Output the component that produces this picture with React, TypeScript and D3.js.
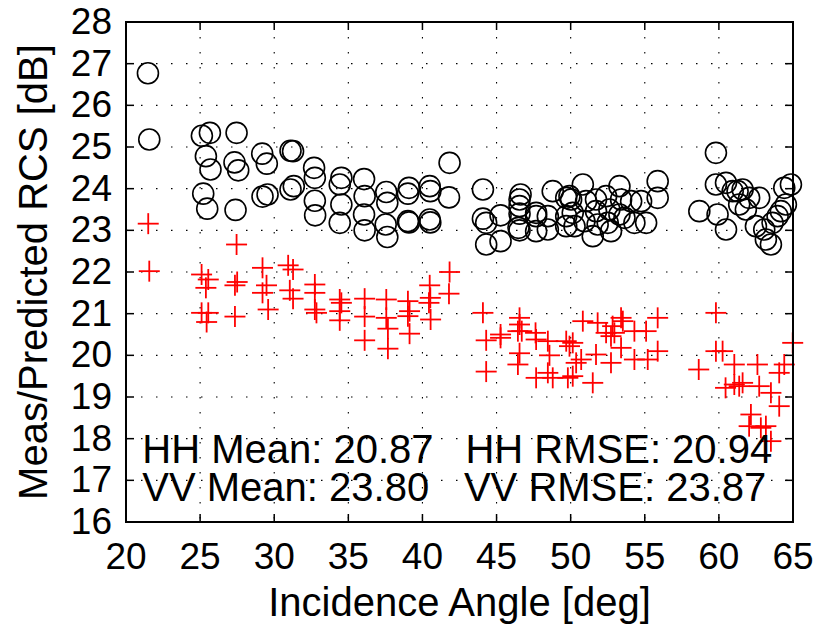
import React from "react";
import * as d3 from "d3";

// VV (circles)
const vvAngle = [
  21.48, 21.57, 25.12, 25.66, 25.39, 25.7, 25.21, 25.48, 27.46, 27.32, 27.57, 27.39,
  29.19, 29.5, 29.21, 29.55, 31.1, 31.27, 31.1, 31.32, 32.69, 32.74, 32.74, 32.76,
  34.53, 34.42, 34.53, 34.42, 36.06, 36.1, 36.06, 36.1, 37.56, 37.63, 37.52, 37.63,
  39.09, 39.02, 39.02, 39.09, 40.49, 40.53, 40.49, 40.53, 41.83, 41.79, 44.08, 44.08,
  44.3, 44.3, 45.27, 45.27, 46.62, 46.55, 46.55, 46.55, 46.48, 46.55, 47.67, 47.67,
  47.67, 48.79, 48.46, 48.46, 49.7, 49.92, 49.7, 49.7, 50.03, 50.14, 50.26, 50.82,
  51.04, 50.93, 51.49, 51.71, 51.71, 51.82, 52.39, 52.61, 52.5, 52.72, 53.29, 53.4,
  53.29, 53.63, 54.08, 54.3, 54.75, 55.09, 55.87, 55.87, 58.68, 59.8, 59.8, 59.91,
  60.48, 60.48, 60.93, 61.26, 61.6, 61.37, 62.04, 62.72, 61.82, 62.5, 63.06, 63.17,
  63.51, 63.62, 63.96, 64.18, 64.52, 64.41, 64.86,
];
const vvRcs = [
  26.77, 25.18, 25.27, 25.34, 24.78, 24.46, 23.88, 23.52, 25.34, 24.63, 24.44, 23.49,
  24.84, 24.6, 23.81, 23.86, 24.91, 24.9, 23.98, 24.06, 24.5, 24.26, 23.71, 23.36,
  24.26, 24.1, 23.62, 23.18, 24.23, 23.82, 23.38, 23.0, 23.92, 23.66, 23.14, 22.84,
  24.02, 23.88, 23.22, 23.19, 24.06, 23.94, 23.26, 23.19, 24.62, 23.79, 23.98, 23.28,
  23.18, 22.66, 23.36, 22.74, 23.86, 23.74, 23.58, 23.4, 23.06, 23.0, 23.42, 23.34,
  22.98, 23.94, 23.34, 23.02, 23.78, 23.82, 23.34, 23.1, 23.74, 23.42, 23.1, 24.1,
  23.7, 23.22, 22.86, 23.74, 23.46, 23.14, 23.82, 23.5, 23.18, 22.98, 24.06, 23.74,
  23.38, 23.3, 23.7, 23.18, 23.7, 23.18, 24.18, 23.78, 23.46, 24.86, 24.1, 23.38,
  23.02, 24.14, 23.94, 23.94, 23.98, 23.62, 23.78, 23.78, 23.5, 23.1, 23.02, 22.78,
  22.66, 23.18, 23.34, 23.46, 23.62, 24.02, 24.1,
];

// HH (plus signs)
const hhAngle = [
  21.5, 21.57, 27.46, 25.1, 25.55, 25.39, 25.1, 25.55, 25.44, 27.35, 27.5, 27.35,
  29.21, 29.48, 29.21, 29.59, 30.94, 31.27, 31.05, 31.27, 32.74, 32.74, 32.74, 32.85,
  34.42, 34.53, 34.42, 34.42, 36.1, 36.1, 36.1, 37.56, 37.56, 37.67, 37.67, 39.02,
  39.13, 39.02, 39.13, 40.49, 40.53, 40.44, 40.55, 41.83, 41.79, 44.08, 44.3, 44.3,
  45.27, 45.27, 46.55, 46.55, 46.44, 46.7, 47.63, 47.67, 46.55, 46.44, 47.67, 48.46,
  48.57, 48.46, 48.79, 49.7, 49.92, 49.81, 50.37, 50.82, 51.82, 52.39, 52.72, 52.83,
  53.4, 53.52, 52.95, 53.4, 54.3, 55.09, 55.87, 55.87, 55.2, 54.3, 52.72, 51.71,
  50.71, 50.14, 50.14, 51.49, 58.64, 59.8, 59.8, 60.25, 61.04, 60.45, 61.04, 61.37,
  61.6, 62.6, 62.72, 63.51, 64.07, 64.07, 64.41, 64.98, 62.16, 62.04, 62.83, 63.17,
  63.51,
];
const hhRcs = [
  23.16, 22.02, 22.66, 21.94, 21.82, 21.62, 21.02, 21.02, 20.8, 21.68, 21.76, 20.93,
  22.1, 21.68, 21.5, 21.1, 22.16, 22.06, 21.56, 21.36, 21.7, 21.5, 21.1, 21.02,
  21.34, 21.26, 21.06, 20.84, 21.36, 20.93, 20.36, 21.34, 20.9, 20.64, 20.16, 21.3,
  21.06, 20.94, 20.52, 21.68, 21.38, 21.26, 20.86, 22.0, 21.48, 21.02, 20.36, 19.61,
  20.5, 20.42, 20.9, 20.74, 20.58, 20.58, 20.54, 20.38, 20.05, 19.78, 19.46, 20.34,
  20.0, 19.58, 19.46, 20.34, 20.22, 19.46, 19.82, 20.82, 20.78, 20.54, 20.46, 20.7,
  20.9, 20.82, 20.54, 20.18, 20.58, 20.58, 20.9, 20.1, 19.9, 19.9, 19.82, 20.02,
  19.9, 19.5, 20.3, 19.34, 19.66, 21.02, 20.1, 20.1, 19.78, 19.22, 19.3, 19.26,
  19.34, 19.78, 19.26, 19.1, 18.78, 19.58, 19.78, 20.3, 18.58, 18.3, 18.26, 18.3,
  17.94,
];

const xTicks = [20, 25, 30, 35, 40, 45, 50, 55, 60, 65];
const yTicks = [16, 17, 18, 19, 20, 21, 22, 23, 24, 25, 26, 27, 28];

const statLines = [
  { text: "HH Mean: 20.87", angle: 21.1, rcs: 17.42 },
  { text: "HH RMSE: 20.94", angle: 42.9, rcs: 17.42 },
  { text: "VV Mean: 23.80", angle: 21.1, rcs: 16.5 },
  { text: "VV RMSE: 23.87", angle: 42.8, rcs: 16.5 },
];

const font = "'Liberation Sans', Arial, Helvetica, sans-serif";

export default function App() {
  const width = 819;
  const height = 625;
  const left = 126, right = 793, top = 22, bottom = 522;

  const x = d3.scaleLinear().domain([20, 65]).range([left, right]);
  const y = d3.scaleLinear().domain([16, 28]).range([bottom, top]);

  const tick = 8;
  const r = 10.5;
  const arm = 10.5;

  return (
    <div style={{ position: "absolute", left: 0, top: 0 }}>
      <svg width={width} height={height} style={{ display: "block", background: "#fff" }}>
        {/* grid */}
        <g stroke="#000" strokeWidth={1.1} strokeDasharray="1.5 13.5" fill="none">
          {xTicks.slice(1, -1).map((t) => (
            <line key={"gx" + t} x1={x(t)} x2={x(t)} y1={top} y2={bottom} />
          ))}
          {yTicks.slice(1, -1).map((t) => (
            <line key={"gy" + t} x1={left} x2={right} y1={y(t)} y2={y(t)} />
          ))}
        </g>

        {/* HH plus markers */}
        <g stroke="#ff0000" strokeWidth={1.8}>
          {hhAngle.map((a, i) => (
            <g key={"hh" + i}>
              <line x1={x(a) - arm} x2={x(a) + arm} y1={y(hhRcs[i])} y2={y(hhRcs[i])} />
              <line x1={x(a)} x2={x(a)} y1={y(hhRcs[i]) - arm} y2={y(hhRcs[i]) + arm} />
            </g>
          ))}
        </g>

        {/* VV circle markers */}
        <g stroke="#000" strokeWidth={1.6} fill="none">
          {vvAngle.map((a, i) => (
            <circle key={"vv" + i} cx={x(a)} cy={y(vvRcs[i])} r={r} />
          ))}
        </g>

        {/* ticks (inward, all sides) */}
        <g stroke="#000" strokeWidth={1.5}>
          {xTicks.map((t) => (
            <g key={"tx" + t}>
              <line x1={x(t)} x2={x(t)} y1={bottom} y2={bottom - tick} />
              <line x1={x(t)} x2={x(t)} y1={top} y2={top + tick} />
            </g>
          ))}
          {yTicks.map((t) => (
            <g key={"ty" + t}>
              <line x1={left} x2={left + tick} y1={y(t)} y2={y(t)} />
              <line x1={right} x2={right - tick} y1={y(t)} y2={y(t)} />
            </g>
          ))}
        </g>

        {/* box */}
        <rect x={left} y={top} width={right - left} height={bottom - top} fill="none" stroke="#000" strokeWidth={2} />

        {/* tick labels */}
        <g fontFamily={font} fontSize={37} fill="#000">
          {xTicks.map((t) => (
            <text key={"lx" + t} x={x(t)} y={bottom + 47} textAnchor="middle">
              {t}
            </text>
          ))}
          {yTicks.map((t) => (
            <text key={"ly" + t} x={left - 14} y={y(t) + 12} textAnchor="end">
              {t}
            </text>
          ))}
        </g>

        {/* stats */}
        <g fontFamily={font} fontSize={40} fill="#000">
          {statLines.map((s) => (
            <text key={s.text} x={x(s.angle)} y={y(s.rcs)}>
              {s.text}
            </text>
          ))}
        </g>

        {/* axis labels */}
        <text x={(left + right) / 2} y={616} textAnchor="middle" fontFamily={font} fontSize={40}>
          Incidence Angle [deg]
        </text>
        <text
          transform={`translate(47, ${(top + bottom) / 2}) rotate(-90)`}
          textAnchor="middle"
          fontFamily={font}
          fontSize={40}
        >
          Meas/Predicted RCS [dB]
        </text>
      </svg>
    </div>
  );
}
